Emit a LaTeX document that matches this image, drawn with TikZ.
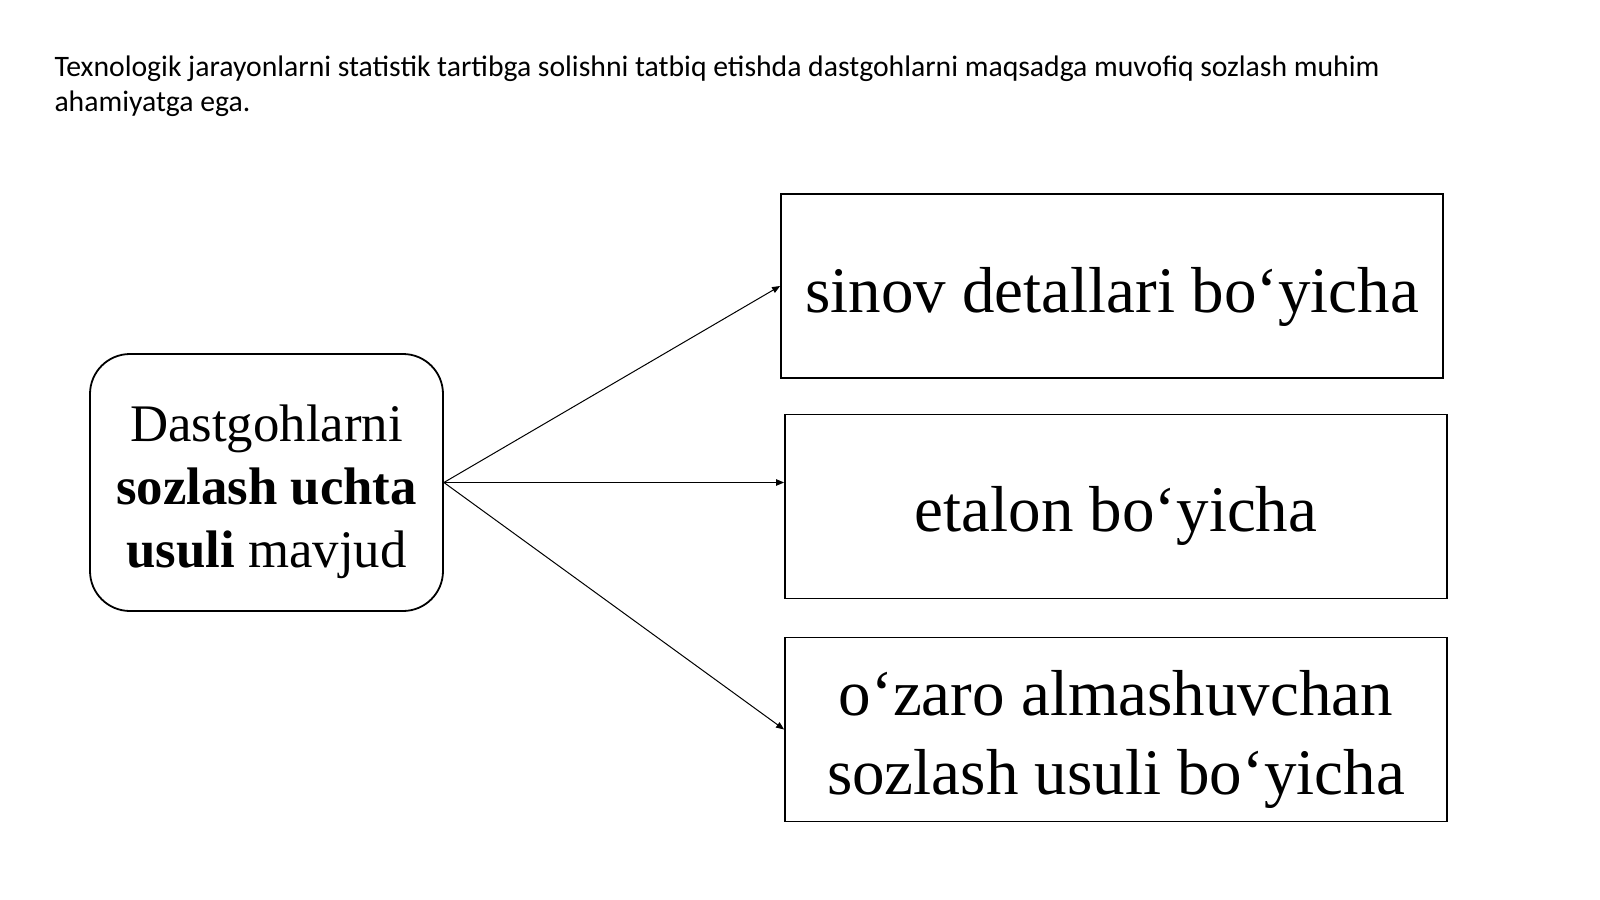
\documentclass[tikz,border=0pt]{standalone}
\usepackage{fontspec}
\setmainfont{Liberation Serif}
\newfontfamily\notefont{Carlito}
\usetikzlibrary{arrows.meta,positioning}

\begin{document}
\begin{tikzpicture}[x=0.5pt,y=-0.5pt,>={Triangle[length=4pt,width=3.2pt]},
                    line width=0.5pt,
                    way/.style={draw,line width=0.9pt,minimum width=331pt,
                      minimum height=92pt,align=center,text depth=0pt,
                      font=\fontsize{32.5}{39.5}\selectfont},
                    root/.style={draw,line width=0.9pt,rounded corners=20pt,
                      minimum width=176.5pt,minimum height=128.5pt,align=center,
                      text depth=0pt,font=\fontsize{26.4}{31.5}\selectfont}]
                \useasboundingbox (0,0) rectangle (1600,899);
                \node[anchor=base west,align=left,inner sep=0pt,
                      font=\notefont\fontsize{14.85}{17.5}\selectfont]
                  (note) at (54,112) {Texnologik jarayonlarni statistik tartibga solishni tatbiq etishda dastgohlarni maqsadga muvofiq sozlash muhim\\ahamiyatga ega.};

                \node[root,text height=84.5pt] (usul) at (266.5,482.5) {Dastgohlarni\\\textbf{sozlash uchta}\\\textbf{usuli} mavjud};
                \node[way,text height=26pt] (sinov) at (1112,286) {sinov detallari bo‘yicha};
                \node[way,text height=24.5pt] (etalon) at (1116,506.5) {etalon bo‘yicha};
                \node[way,text height=64.5pt] (ozaro) at (1116,729.5) {o‘zaro almashuvchan\\sozlash usuli bo‘yicha};

    \path[->]
    (usul.east) edge (sinov.west)
    edge (usul.east -| etalon.west)
    edge (ozaro.west);
            \end{tikzpicture}
\end{document}
